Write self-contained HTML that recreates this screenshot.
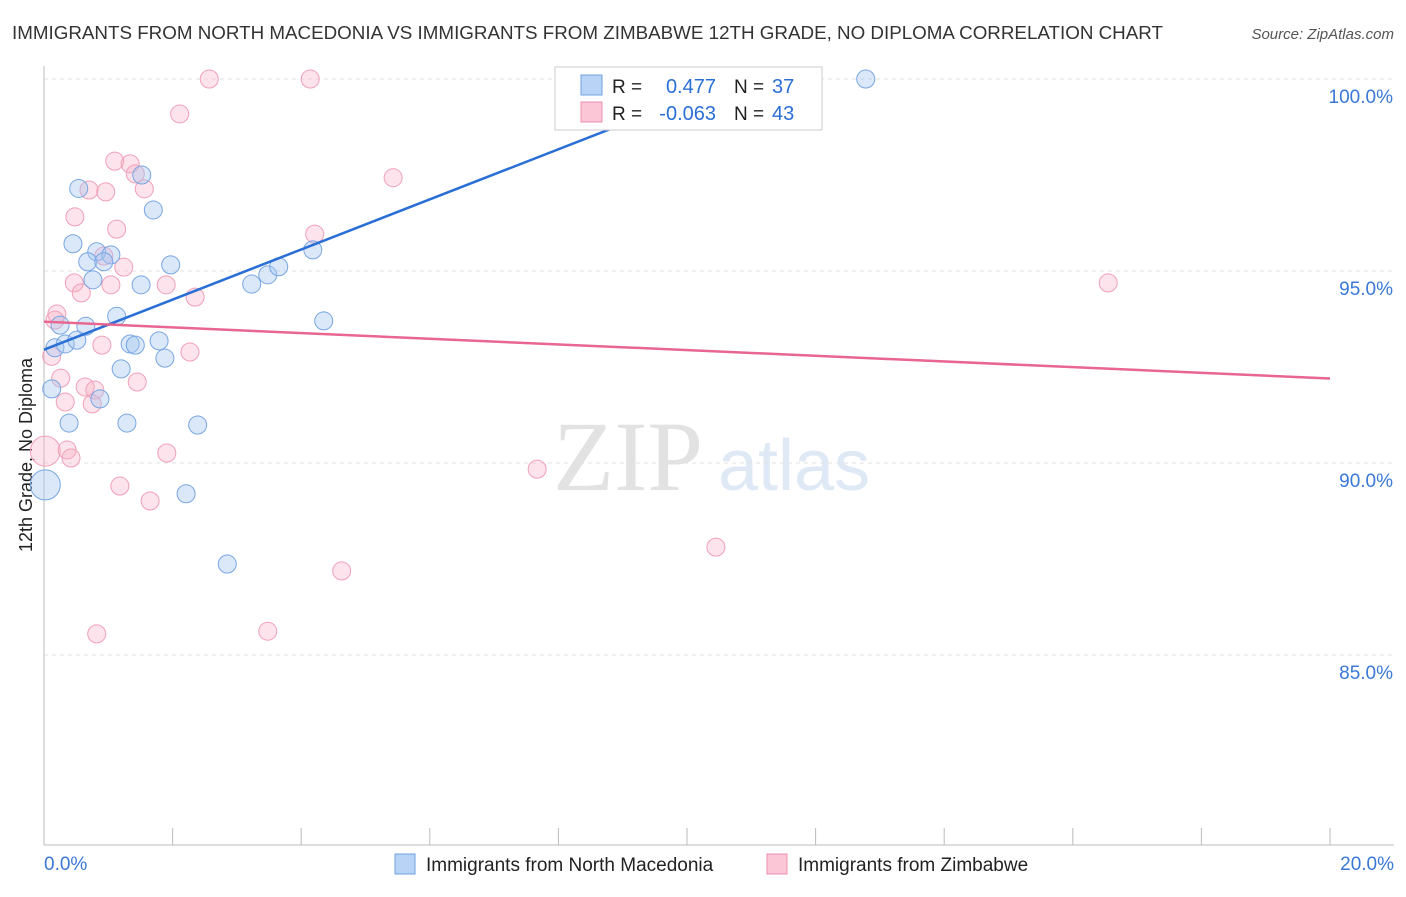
<!DOCTYPE html>
<html><head><meta charset="utf-8"><style>
body{margin:0;background:#fff;font-family:"Liberation Sans",sans-serif;}
svg text{font-family:"Liberation Sans",sans-serif;}
</style></head><body>
<svg id="c" width="1406" height="892" xmlns="http://www.w3.org/2000/svg">
<text x="12" y="39" font-size="18.8" fill="#333">IMMIGRANTS FROM NORTH MACEDONIA VS IMMIGRANTS FROM ZIMBABWE 12TH GRADE, NO DIPLOMA CORRELATION CHART</text>
<text x="1394" y="39" font-size="15" fill="#555" text-anchor="end" font-style="italic">Source: ZipAtlas.com</text>
<text x="32" y="455" font-size="18" fill="#222" text-anchor="middle" transform="rotate(-90 32 455)">12th Grade, No Diploma</text>
<text x="553" y="490" font-size="100" fill="#e2e2e2" style="font-family:'Liberation Serif',serif">ZIP</text>
<text x="718" y="490" font-size="72" fill="#dfe9f6">atlas</text>
<g id="grid"></g><g id="pts"></g><g id="lines"></g>
<g>
<rect x="555" y="67" width="267" height="63" fill="#fff" stroke="#ccc"/>
<rect x="581" y="75" width="21" height="20" fill="#b8d3f5" stroke="#6fa0e0"/>
<rect x="581" y="102" width="21" height="20" fill="#fbc7d6" stroke="#ee92ad"/>
<text x="612" y="93" font-size="19" fill="#222">R =</text><text x="716" y="93" font-size="20" fill="#2a6fd6" text-anchor="end">0.477</text>
<text x="734" y="93" font-size="19" fill="#222">N =</text><text x="772" y="93" font-size="20" fill="#2a6fd6">37</text>
<text x="612" y="120" font-size="19" fill="#222">R =</text><text x="716" y="120" font-size="20" fill="#2a6fd6" text-anchor="end">-0.063</text>
<text x="734" y="120" font-size="19" fill="#222">N =</text><text x="772" y="120" font-size="20" fill="#2a6fd6">43</text>
</g>
<g>
<rect x="395" y="854" width="20" height="20" fill="#b8d3f5" stroke="#6fa0e0"/>
<text x="426" y="871" font-size="19" fill="#222">Immigrants from North Macedonia</text>
<rect x="767" y="854" width="20" height="20" fill="#fbc7d6" stroke="#ee92ad"/>
<text x="798" y="871" font-size="19" fill="#222">Immigrants from Zimbabwe</text>
</g>
</svg>
<script>
const blueX=[0.54,1.52,1.70,0.45,0.82,1.04,0.68,0.93,1.97,0.76,1.51,3.23,3.48,3.65,4.18,1.13,0.25,0.65,4.35,0.17,0.33,0.51,1.34,1.42,1.79,1.88,1.20,0.12,0.87,0.39,1.29,2.39,0.02,2.21,2.85,12.78,8.10];
const blueY=[97.15,97.50,96.59,95.71,95.50,95.42,95.24,95.24,95.16,94.77,94.64,94.66,94.90,95.11,95.55,93.82,93.59,93.56,93.70,93.00,93.10,93.20,93.10,93.07,93.18,92.73,92.45,91.93,91.67,91.04,91.04,90.99,89.43,89.20,87.37,100.0,98.99];
const pinkX=[2.57,4.14,2.11,1.10,1.34,1.42,0.70,0.96,1.56,5.43,0.48,1.13,4.21,0.93,1.24,0.47,1.04,1.90,0.58,2.35,0.20,0.17,16.55,0.90,2.27,0.12,0.26,1.45,0.64,0.79,0.33,0.75,0.02,0.36,0.42,1.91,7.67,1.18,1.65,10.45,4.63,0.82,3.48];
const pinkY=[100.0,100.0,99.09,97.86,97.79,97.53,97.11,97.06,97.14,97.43,96.41,96.09,95.96,95.39,95.10,94.69,94.64,94.64,94.43,94.32,93.88,93.72,94.69,93.07,92.89,92.78,92.21,92.11,91.98,91.90,91.59,91.54,90.31,90.34,90.13,90.26,89.84,89.40,89.01,87.81,87.19,85.55,85.62];
const trendX=[0,20];
const blueTrend=[92.95,106.0];
const pinkTrend=[93.68,92.20];
const yTicks=[100,95,90,85];
const xTickLabels=["0.0%","20.0%"];
const NS="http://www.w3.org/2000/svg";
const sx=v=>44+v*64.3, sy=v=>79+(100-v)*38.4;
function mk(t,a,p){const e=document.createElementNS(NS,t);for(const k in a)e.setAttribute(k,a[k]);p.appendChild(e);return e;}
const grid=document.getElementById('grid');
for(const t of yTicks){
 const l=mk('line',{x1:44,x2:1394,y1:sy(t),y2:sy(t),stroke:'#e2e2e2','stroke-dasharray':'4,4'},grid);
 
 
 const tx=mk('text',{x:1393,y:sy(t)+24,'font-size':19,fill:'#3a78d8','text-anchor':'end'},grid);
 tx.textContent=t.toFixed(1)+'%';
 
 
}
const ax=mk('line',{x1:44,x2:44,y1:66,y2:845,stroke:'#bbb'},grid);


const bx=mk('line',{x1:44,x2:1394,y1:845,y2:845,stroke:'#bbb'},grid);


for(let i=0;i<=10;i++){const x=44+i*128.6;const t=mk('line',{x1:x,x2:x,y1:828,y2:845,stroke:'#bbb'},grid);
 
 }
const xl0=mk('text',{x:44,y:870,'font-size':19,fill:'#3a78d8'},grid);xl0.textContent=xTickLabels[0];


const xl1=mk('text',{x:1394,y:870,'font-size':19,fill:'#3a78d8','text-anchor':'end'},grid);xl1.textContent=xTickLabels[1];


const pts=document.getElementById('pts');
function draw(X,Y,fill,stroke,name){for(let i=0;i<X.length;i++){const big=X[i]<0.05;
 const c=mk('circle',{cx:sx(X[i]),cy:sy(Y[i]),r:big?15:9,fill:fill,stroke:stroke,'stroke-width':1},pts);
 
 }}
draw(pinkX,pinkY,'rgba(248,175,198,0.35)','#f0a0b8','zimbabwe-point');
draw(blueX,blueY,'rgba(165,198,240,0.4)','#78a6e2','macedonia-point');
const lines=document.getElementById('lines');
let bx2=trendX[1],by2=blueTrend[1];
if(by2>100){bx2=trendX[0]+(100-blueTrend[0])/(blueTrend[1]-blueTrend[0])*(trendX[1]-trendX[0]);by2=100;}
const bl=mk('line',{x1:sx(trendX[0]),y1:sy(blueTrend[0]),x2:sx(bx2),y2:sy(by2),stroke:'#2a6fd6','stroke-width':2.5},lines);


const pl=mk('line',{x1:sx(trendX[0]),y1:sy(pinkTrend[0]),x2:sx(trendX[1]),y2:sy(pinkTrend[1]),stroke:'#e8668f','stroke-width':2.5},lines);


</script>
</body></html>
